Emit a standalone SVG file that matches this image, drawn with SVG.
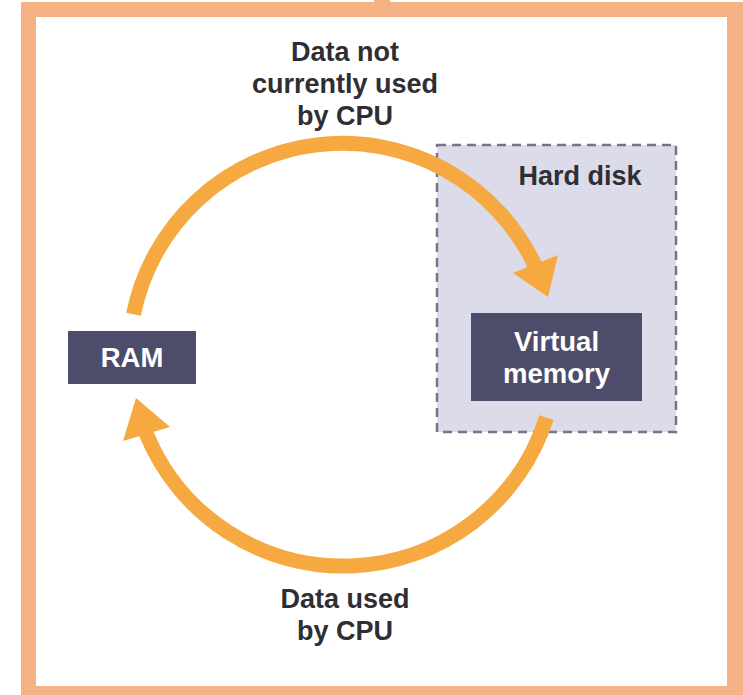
<svg xmlns="http://www.w3.org/2000/svg" width="743" height="695" viewBox="0 0 743 695">
<style>
.lbl{font-family:"Liberation Sans",Arial,sans-serif;font-weight:700;font-size:27px;fill:#2e2e33;text-anchor:middle}
.box{fill:#4e4c6b}
.btxt{font-family:"Liberation Sans",Arial,sans-serif;font-weight:700;font-size:27.5px;fill:#ffffff;text-anchor:middle}
.arc{fill:none;stroke:#f7a941;stroke-width:15}
.head{fill:#f7a941}
</style>
<rect width="743" height="695" fill="#ffffff"/>
<g id="frame">
<path d="M21 2 H743 V695 H21 Z M36 17 V686 H727 V17 Z" fill="#f4b183" fill-rule="evenodd"/>
<rect x="374" y="0" width="16" height="3" fill="#f4b183"/>
</g>
<g id="hard-disk">
<rect x="437" y="145" width="239" height="287" fill="#dcdbea" stroke="#76738c" stroke-width="2.5" stroke-dasharray="9 6"/>
<text class="lbl" x="580" y="185">Hard disk</text>
</g>
<g id="ram">
<rect class="box" x="68" y="331" width="128" height="53"/>
<text class="btxt" x="132" y="367">RAM</text>
</g>
<g id="virtual-memory">
<rect class="box" x="471" y="313" width="171" height="88"/>
<text class="btxt" x="556.5" y="351">Virtual</text>
<text class="btxt" x="556.5" y="383">memory</text>
</g>
<g id="connectors">
<path class="arc" d="M133.5 314.3 A213 213 0 0 1 535 265.5"/>
<polygon class="head" points="548,297 513,273 558,255"/>
<path class="arc" d="M546.5 417.4 A213 213 0 0 1 146 433"/>
<polygon class="head" points="136,398 123,441 170,427"/>
</g>
<g id="labels">
<text class="lbl" x="345" y="61">Data not</text>
<text class="lbl" x="345" y="93">currently used</text>
<text class="lbl" x="345" y="125">by CPU</text>
<text class="lbl" x="345" y="608">Data used</text>
<text class="lbl" x="345" y="640">by CPU</text>
</g>
</svg>
